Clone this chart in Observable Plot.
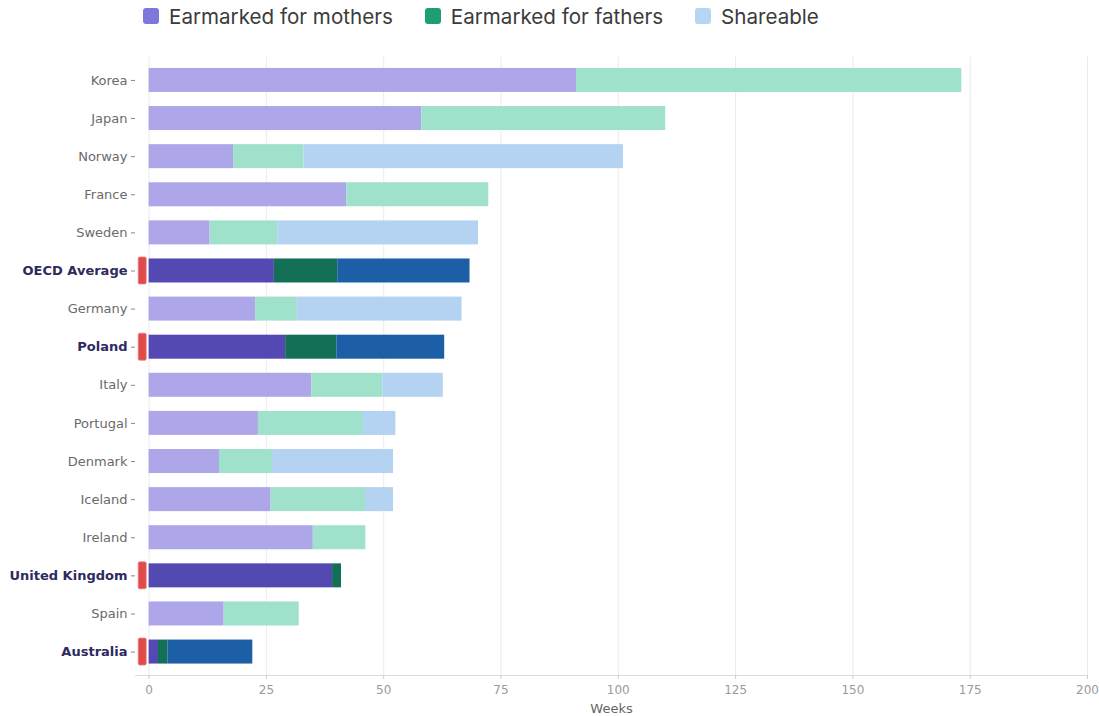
<!DOCTYPE html>
<html><head><meta charset="utf-8">
<script src="https://cdn.jsdelivr.net/npm/d3@7"></script>
<script src="https://cdn.jsdelivr.net/npm/@observablehq/plot@0.6"></script>
<style>
body{margin:0;background:#fff;}
#legend{height:32px;display:flex;align-items:center;padding-left:143px;font-family:Inter,"Liberation Sans",sans-serif;font-size:20.6px;color:#3b3b3b;}
.item{display:flex;align-items:center;margin-right:32px;}
.sw{width:16px;height:16px;border-radius:3px;margin-right:10px;}
</style></head><body>
<div id="legend"></div><div id="chart"></div>
<script>
const countries = ["Korea","Japan","Norway","France","Sweden","OECD Average","Germany","Poland","Italy","Portugal","Denmark","Iceland","Ireland","United Kingdom","Spain","Australia"];
const mothers   = [91.1, 58.1, 18.0, 42.1, 13.0, 26.7, 22.7, 29.1, 34.7, 23.3, 15.0, 26.0, 35.0, 39.1, 16.0, 2.0];
const fathers   = [82.1, 52.0, 15.0, 30.3, 14.4, 13.5,  8.9, 10.9, 15.1, 22.4, 11.3, 20.1, 11.2,  1.9, 16.0, 2.0];
const shareable = [ 0.0,  0.0, 68.1,  0.0, 42.8, 28.2, 35.1, 23.0, 12.9,  6.9, 25.8,  6.0,  0.0,  0.0,  0.0, 18.1];
const highlighted = ["OECD Average","Poland","United Kingdom","Australia"];
const seriesNames = ["Earmarked for mothers","Earmarked for fathers","Shareable"];
const xTicks = [0,25,50,75,100,125,150,175,200];

const lightColors = ["#ada7e9","#a0e1cb","#b4d3f2"];
const darkColors  = ["#5449b3","#136f56","#1c5fa6"];
const legendColors = ["#7f78dc","#1e9e74","#b6d4f4"];

const rows = [];
countries.forEach((c,i)=>{
  const h = highlighted.includes(c);
  [mothers[i],fathers[i],shareable[i]].forEach((v,k)=>{
    rows.push({country:c, key: seriesNames[k] + (h ? " (highlight)" : ""), value:v});
  });
});
const keys = seriesNames.concat(seriesNames.map(s => s + " (highlight)"));
const colors = lightColors.concat(darkColors);

const legend = document.getElementById("legend");
seriesNames.forEach((s,k)=>{
  const it = document.createElement("div"); it.className="item";
  const sw = document.createElement("div"); sw.className="sw"; sw.style.background=legendColors[k];
  const tx = document.createElement("span"); tx.textContent=s;
  it.appendChild(sw); it.appendChild(tx); legend.appendChild(it);
});

const chart = Plot.plot({
  width:1099, height:684, marginTop:24.5, marginBottom:41, marginLeft:135, marginRight:12,
  style:{fontFamily:"'DejaVu Sans', sans-serif", background:"#fff"},
  x:{domain:[-2.9,200]},
  y:{domain:countries, paddingInner:0.37, paddingOuter:0.3, align:0.5, round:false},
  color:{domain:keys, range:colors},
  marks:[
    Plot.gridX(xTicks,{stroke:"#ebebeb", strokeOpacity:1}),
    Plot.frame({anchor:"bottom", stroke:"#dcdcdc"}),
    Plot.barX(rows, Plot.stackX({y:"country", x:"value", fill:"key"})),
    Plot.barX(highlighted, {x1:() => 0, x2:() => 0, y:d => d, fill:"#e04a4a", stroke:"#ee8080", strokeWidth:0.8, rx:1.5,
      insetLeft:-10.4, insetRight:2.4, insetTop:-1.5, insetBottom:-1.5}),
    Plot.axisX(xTicks, {tickSize:4, tickPadding:6, stroke:"#cccccc", fill:"#9a9a9a", fontSize:12, label:null}),
    Plot.axisX({ticks:[], label:"Weeks", labelAnchor:"center", labelOffset:37, labelArrow:"none", fill:"#666", fontSize:13}),
    Plot.axisY(countries.filter(c=>!highlighted.includes(c)), {tickSize:4, tickPadding:4, stroke:"#888", fill:"#6a6a6a", fontSize:13, label:null}),
    Plot.axisY(highlighted, {tickSize:4, tickPadding:4, stroke:"#888", fill:"#2e2a5e", fontWeight:"bold", fontSize:13, label:null})
  ]
});
document.getElementById("chart").appendChild(chart);
</script>
</body></html>
